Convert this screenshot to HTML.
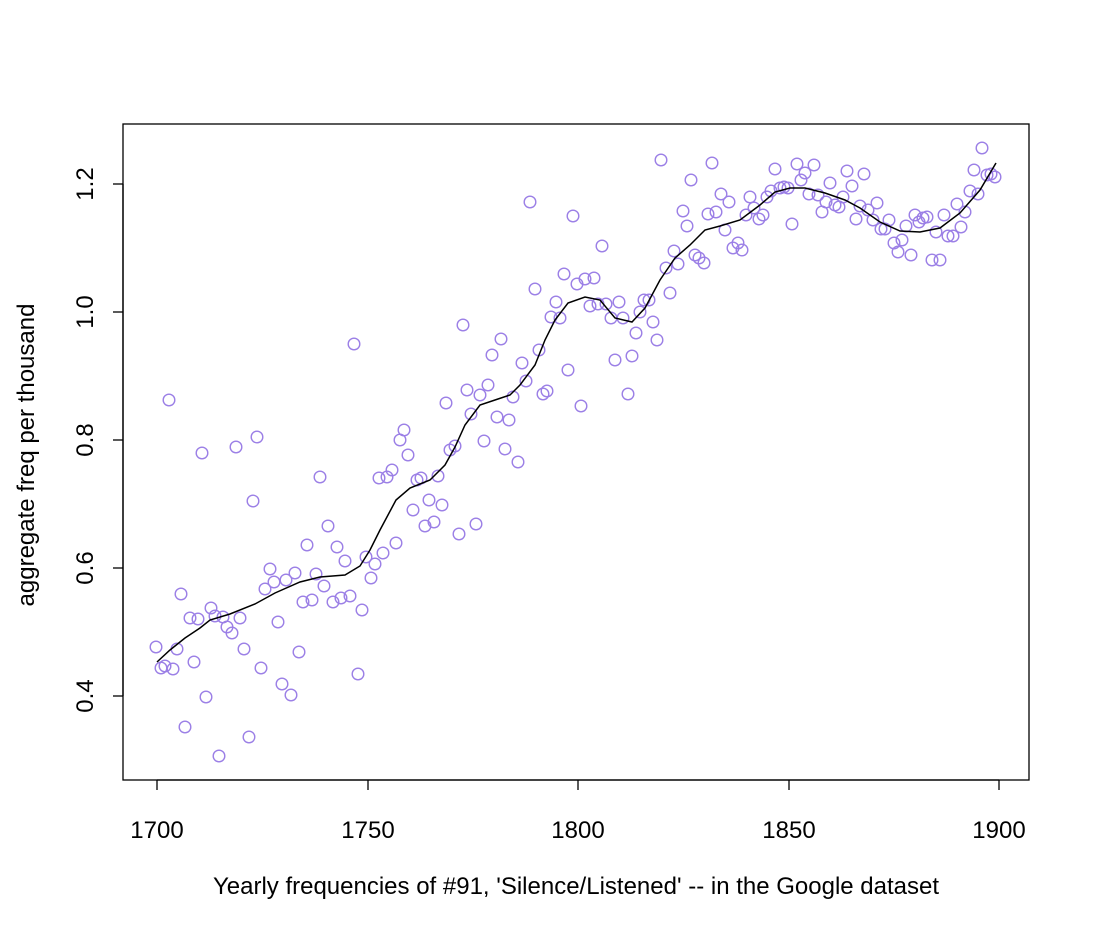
<!DOCTYPE html>
<html><head><meta charset="utf-8"><style>body{margin:0;background:#fff}svg{display:block}text{font-family:"Liberation Sans",sans-serif;fill:#000}</style></head><body>
<svg width="1093" height="934" viewBox="0 0 1093 934">
<rect x="123" y="124" width="906" height="656" fill="none" stroke="#000" stroke-width="1.3"/>
<g stroke="#000" stroke-width="1.3">
<line x1="157" y1="780" x2="999" y2="780"/>
<line x1="157" y1="780" x2="157" y2="790"/><line x1="368" y1="780" x2="368" y2="790"/><line x1="578" y1="780" x2="578" y2="790"/><line x1="789" y1="780" x2="789" y2="790"/><line x1="999" y1="780" x2="999" y2="790"/>
<line x1="123" y1="184" x2="123" y2="696"/>
<line x1="113" y1="184" x2="123" y2="184"/><line x1="113" y1="312" x2="123" y2="312"/><line x1="113" y1="440" x2="123" y2="440"/><line x1="113" y1="568" x2="123" y2="568"/><line x1="113" y1="696" x2="123" y2="696"/>
</g>
<g font-size="24" text-anchor="middle">
<text x="157" y="838">1700</text><text x="368" y="838">1750</text><text x="578" y="838">1800</text><text x="789" y="838">1850</text><text x="999" y="838">1900</text>
<text transform="translate(93,184) rotate(-90)">1.2</text>
<text transform="translate(93,312) rotate(-90)">1.0</text>
<text transform="translate(93,440) rotate(-90)">0.8</text>
<text transform="translate(93,568) rotate(-90)">0.6</text>
<text transform="translate(93,696) rotate(-90)">0.4</text>
<text x="576" y="894">Yearly frequencies of #91, 'Silence/Listened' -- in the Google dataset</text>
<text transform="translate(34,455) rotate(-90)">aggregate freq per thousand</text>
</g>
<g fill="none" stroke="#9b7fe6" stroke-width="1.4">
<circle cx="156" cy="647" r="5.8"/><circle cx="161" cy="668" r="5.8"/><circle cx="165" cy="666" r="5.8"/><circle cx="169" cy="400" r="5.8"/><circle cx="173" cy="669" r="5.8"/><circle cx="177" cy="649" r="5.8"/><circle cx="181" cy="594" r="5.8"/><circle cx="185" cy="727" r="5.8"/><circle cx="190" cy="618" r="5.8"/><circle cx="194" cy="662" r="5.8"/>
<circle cx="198" cy="619" r="5.8"/><circle cx="202" cy="453" r="5.8"/><circle cx="206" cy="697" r="5.8"/><circle cx="211" cy="608" r="5.8"/><circle cx="215" cy="616" r="5.8"/><circle cx="219" cy="756" r="5.8"/><circle cx="223" cy="617" r="5.8"/><circle cx="227" cy="627" r="5.8"/><circle cx="232" cy="633" r="5.8"/><circle cx="236" cy="447" r="5.8"/>
<circle cx="240" cy="618" r="5.8"/><circle cx="244" cy="649" r="5.8"/><circle cx="249" cy="737" r="5.8"/><circle cx="253" cy="501" r="5.8"/><circle cx="257" cy="437" r="5.8"/><circle cx="261" cy="668" r="5.8"/><circle cx="265" cy="589" r="5.8"/><circle cx="270" cy="569" r="5.8"/><circle cx="274" cy="582" r="5.8"/><circle cx="278" cy="622" r="5.8"/>
<circle cx="282" cy="684" r="5.8"/><circle cx="286" cy="580" r="5.8"/><circle cx="291" cy="695" r="5.8"/><circle cx="295" cy="573" r="5.8"/><circle cx="299" cy="652" r="5.8"/><circle cx="303" cy="602" r="5.8"/><circle cx="307" cy="545" r="5.8"/><circle cx="312" cy="600" r="5.8"/><circle cx="316" cy="574" r="5.8"/><circle cx="320" cy="477" r="5.8"/>
<circle cx="324" cy="586" r="5.8"/><circle cx="328" cy="526" r="5.8"/><circle cx="333" cy="602" r="5.8"/><circle cx="337" cy="547" r="5.8"/><circle cx="341" cy="598" r="5.8"/><circle cx="345" cy="561" r="5.8"/><circle cx="350" cy="596" r="5.8"/><circle cx="354" cy="344" r="5.8"/><circle cx="358" cy="674" r="5.8"/><circle cx="362" cy="610" r="5.8"/>
<circle cx="366" cy="557" r="5.8"/><circle cx="371" cy="578" r="5.8"/><circle cx="375" cy="564" r="5.8"/><circle cx="379" cy="478" r="5.8"/><circle cx="383" cy="553" r="5.8"/><circle cx="387" cy="477" r="5.8"/><circle cx="392" cy="470" r="5.8"/><circle cx="396" cy="543" r="5.8"/><circle cx="400" cy="440" r="5.8"/><circle cx="404" cy="430" r="5.8"/>
<circle cx="408" cy="455" r="5.8"/><circle cx="413" cy="510" r="5.8"/><circle cx="417" cy="480" r="5.8"/><circle cx="421" cy="478" r="5.8"/><circle cx="425" cy="526" r="5.8"/><circle cx="429" cy="500" r="5.8"/><circle cx="434" cy="522" r="5.8"/><circle cx="438" cy="476" r="5.8"/><circle cx="442" cy="505" r="5.8"/><circle cx="446" cy="403" r="5.8"/>
<circle cx="450" cy="450" r="5.8"/><circle cx="455" cy="446" r="5.8"/><circle cx="459" cy="534" r="5.8"/><circle cx="463" cy="325" r="5.8"/><circle cx="467" cy="390" r="5.8"/><circle cx="471" cy="414" r="5.8"/><circle cx="476" cy="524" r="5.8"/><circle cx="480" cy="395" r="5.8"/><circle cx="484" cy="441" r="5.8"/><circle cx="488" cy="385" r="5.8"/>
<circle cx="492" cy="355" r="5.8"/><circle cx="497" cy="417" r="5.8"/><circle cx="501" cy="339" r="5.8"/><circle cx="505" cy="449" r="5.8"/><circle cx="509" cy="420" r="5.8"/><circle cx="513" cy="397" r="5.8"/><circle cx="518" cy="462" r="5.8"/><circle cx="522" cy="363" r="5.8"/><circle cx="526" cy="381" r="5.8"/><circle cx="530" cy="202" r="5.8"/>
<circle cx="535" cy="289" r="5.8"/><circle cx="539" cy="350" r="5.8"/><circle cx="543" cy="394" r="5.8"/><circle cx="547" cy="391" r="5.8"/><circle cx="551" cy="317" r="5.8"/><circle cx="556" cy="302" r="5.8"/><circle cx="560" cy="318" r="5.8"/><circle cx="564" cy="274" r="5.8"/><circle cx="568" cy="370" r="5.8"/><circle cx="573" cy="216" r="5.8"/>
<circle cx="577" cy="284" r="5.8"/><circle cx="581" cy="406" r="5.8"/><circle cx="585" cy="279" r="5.8"/><circle cx="590" cy="306" r="5.8"/><circle cx="594" cy="278" r="5.8"/><circle cx="598" cy="304" r="5.8"/><circle cx="602" cy="246" r="5.8"/><circle cx="606" cy="304" r="5.8"/><circle cx="611" cy="318" r="5.8"/><circle cx="615" cy="360" r="5.8"/>
<circle cx="619" cy="302" r="5.8"/><circle cx="623" cy="318" r="5.8"/><circle cx="628" cy="394" r="5.8"/><circle cx="632" cy="356" r="5.8"/><circle cx="636" cy="333" r="5.8"/><circle cx="640" cy="312" r="5.8"/><circle cx="644" cy="300" r="5.8"/><circle cx="649" cy="300" r="5.8"/><circle cx="653" cy="322" r="5.8"/><circle cx="657" cy="340" r="5.8"/>
<circle cx="661" cy="160" r="5.8"/><circle cx="666" cy="268" r="5.8"/><circle cx="670" cy="293" r="5.8"/><circle cx="674" cy="251" r="5.8"/><circle cx="678" cy="264" r="5.8"/><circle cx="683" cy="211" r="5.8"/><circle cx="687" cy="226" r="5.8"/><circle cx="691" cy="180" r="5.8"/><circle cx="695" cy="255" r="5.8"/><circle cx="699" cy="258" r="5.8"/>
<circle cx="704" cy="263" r="5.8"/><circle cx="708" cy="214" r="5.8"/><circle cx="712" cy="163" r="5.8"/><circle cx="716" cy="212" r="5.8"/><circle cx="721" cy="194" r="5.8"/><circle cx="725" cy="230" r="5.8"/><circle cx="729" cy="202" r="5.8"/><circle cx="733" cy="248" r="5.8"/><circle cx="738" cy="243" r="5.8"/><circle cx="742" cy="250" r="5.8"/>
<circle cx="746" cy="215" r="5.8"/><circle cx="750" cy="197" r="5.8"/><circle cx="754" cy="208" r="5.8"/><circle cx="759" cy="219" r="5.8"/><circle cx="763" cy="215" r="5.8"/><circle cx="767" cy="197" r="5.8"/><circle cx="771" cy="191" r="5.8"/><circle cx="775" cy="169" r="5.8"/><circle cx="780" cy="188" r="5.8"/><circle cx="784" cy="187" r="5.8"/>
<circle cx="788" cy="188" r="5.8"/><circle cx="792" cy="224" r="5.8"/><circle cx="797" cy="164" r="5.8"/><circle cx="801" cy="180" r="5.8"/><circle cx="805" cy="173" r="5.8"/><circle cx="809" cy="194" r="5.8"/><circle cx="814" cy="165" r="5.8"/><circle cx="818" cy="195" r="5.8"/><circle cx="822" cy="212" r="5.8"/><circle cx="826" cy="202" r="5.8"/>
<circle cx="830" cy="183" r="5.8"/><circle cx="835" cy="205" r="5.8"/><circle cx="839" cy="207" r="5.8"/><circle cx="843" cy="197" r="5.8"/><circle cx="847" cy="171" r="5.8"/><circle cx="852" cy="186" r="5.8"/><circle cx="856" cy="219" r="5.8"/><circle cx="860" cy="206" r="5.8"/><circle cx="864" cy="174" r="5.8"/><circle cx="868" cy="210" r="5.8"/>
<circle cx="873" cy="220" r="5.8"/><circle cx="877" cy="203" r="5.8"/><circle cx="881" cy="229" r="5.8"/><circle cx="885" cy="229" r="5.8"/><circle cx="889" cy="220" r="5.8"/><circle cx="894" cy="243" r="5.8"/><circle cx="898" cy="252" r="5.8"/><circle cx="902" cy="240" r="5.8"/><circle cx="906" cy="226" r="5.8"/><circle cx="911" cy="255" r="5.8"/>
<circle cx="915" cy="215" r="5.8"/><circle cx="919" cy="222" r="5.8"/><circle cx="923" cy="218" r="5.8"/><circle cx="927" cy="217" r="5.8"/><circle cx="932" cy="260" r="5.8"/><circle cx="936" cy="232" r="5.8"/><circle cx="940" cy="260" r="5.8"/><circle cx="944" cy="215" r="5.8"/><circle cx="948" cy="236" r="5.8"/><circle cx="953" cy="236" r="5.8"/>
<circle cx="957" cy="204" r="5.8"/><circle cx="961" cy="227" r="5.8"/><circle cx="965" cy="212" r="5.8"/><circle cx="970" cy="191" r="5.8"/><circle cx="974" cy="170" r="5.8"/><circle cx="978" cy="194" r="5.8"/><circle cx="982" cy="148" r="5.8"/><circle cx="987" cy="175" r="5.8"/><circle cx="991" cy="174" r="5.8"/><circle cx="995" cy="177" r="5.8"/>
</g>
<polyline fill="none" stroke="#000" stroke-width="1.5" points="157,662 170,650 185,638 200,628 210,620 230,614 255,604 275,593 300,582 320,577 345,575 360,566 370,550 380,530 396,500 410,488 430,480 445,465 455,447 465,425 480,405 495,400 510,395 520,385 535,365 545,340 555,320 568,303 585,297 600,300 615,318 632,322 645,308 660,280 675,258 690,245 705,230 720,226 740,220 760,205 775,192 790,188 805,188 825,193 845,200 860,208 880,222 900,231 920,232 940,228 960,213 980,190 996,163"/>
</svg>
</body></html>
